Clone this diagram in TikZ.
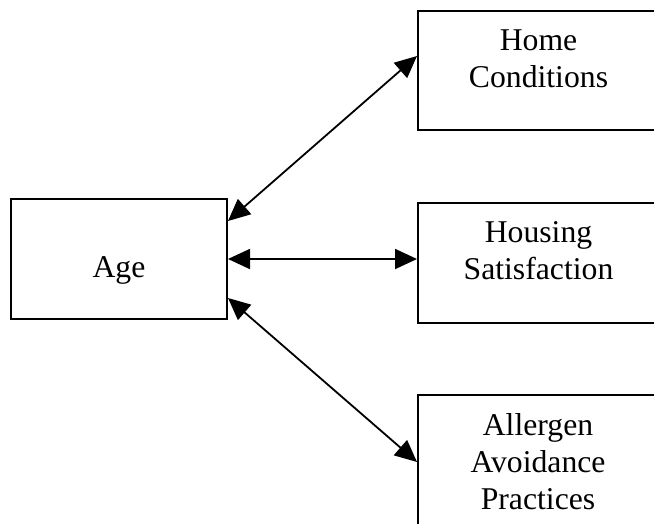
\documentclass[tikz,border=0pt]{standalone}
\usepackage{fontspec}
\setmainfont{Liberation Serif}
\usetikzlibrary{arrows.meta,calc}
\tikzset{
  box/.style={draw, line width=2pt, rectangle, inner sep=0pt},
  lbl/.style={font=\fontsize{31.7}{37}\selectfont, align=center, inner sep=0pt, anchor=north},
  link/.style={{Triangle[length=22pt,width=20pt]}-{Triangle[length=22pt,width=20pt]}, line width=1.8pt},
}
\begin{document}
\begin{tikzpicture}[x=1pt,y=-1pt]
\clip (0,0) rectangle (654,523);
\fill[white] (0,0) rectangle (654,523);
% boxes
\node[box, minimum width=216pt, minimum height=120pt] (age) at (119,259) {};
\node[box, minimum width=242pt, minimum height=119pt] (home) at (539,70.5) {};
\node[box, minimum width=242pt, minimum height=120pt] (hous) at (539,263) {};
\node[box, minimum width=242pt, minimum height=140pt] (alle) at (539,465) {};
% labels
\node[lbl, anchor=base] (agetxt) at (119,277) {Age};
\node[lbl] (hometxt) at (538.5,30) {Home\\Conditions};
\node[lbl] (houstxt) at (538.5,221.5) {Housing\\Satisfaction};
\node[lbl] (alletxt) at (538,413.5) {Allergen\\Avoidance\\Practices};
% connectors
\draw[link] ($(age.north east)+(0,23)$) -- ($(home.north west)+(0,46)$);
\draw[link] (age.east) -- (age.east -| hous.west);
\draw[link] ($(age.south east)+(0,-22)$) -- ($(alle.north west)+(0,68)$);
\end{tikzpicture}
\end{document}
